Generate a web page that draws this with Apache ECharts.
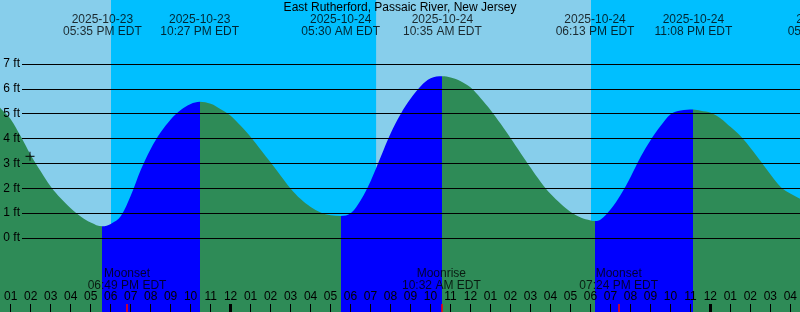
<!DOCTYPE html>
<html><head><meta charset="utf-8">
<script src="https://cdn.jsdelivr.net/npm/echarts@6/dist/echarts.min.js"></script>
<style>html,body{margin:0;padding:0;background:#87CEEB}#c{width:800px;height:312px}</style>
</head><body><div id="c"></div>
<script>
// All times: hours since 2025-10-23 00:00 EDT
const titleText = 'East Rutherford, Passaic River, New Jersey';
const viewStart = 12.465, viewEnd = 52.465;
const hourTickStart = 13, hourTickEnd = 52;
const feetMin = -3, feetMax = 9.57;
const gridFeetMin = 0, gridFeetMax = 7;

const tideTimes = [
  12.0, 12.5, 13.0, 13.5, 14.0, 14.5, 15.0, 15.5, 16.0, 16.5, 17.0, 17.583,
  18.0, 18.5, 19.0, 19.5, 20.0, 20.5, 21.0, 21.5, 22.0, 22.45,
  23.0, 23.5, 24.0, 24.5, 25.0, 25.5, 26.0, 26.5, 27.0, 27.5, 28.0, 28.5, 29.0, 29.5,
  30.0, 30.5, 31.0, 31.5, 32.0, 32.5, 33.0, 33.5, 34.0, 34.583,
  35.0, 35.5, 36.0, 36.5, 37.0, 37.5, 38.0, 38.5, 39.0, 39.5, 40.0, 40.5, 41.0, 41.5, 42.0, 42.217,
  42.5, 43.0, 43.5, 44.0, 44.5, 45.0, 45.5, 46.0, 46.5, 47.133,
  47.5, 48.0, 48.5, 49.0, 49.5, 50.0, 50.5, 51.0, 51.5, 52.0, 52.5, 53.0];
const tideFeet = [
  5.6, 5.2, 4.77, 4.08, 3.33, 2.67, 2.06, 1.58, 1.18, 0.85, 0.61, 0.45,
  0.55, 0.86, 1.68, 2.72, 3.57, 4.24, 4.76, 5.14, 5.38, 5.47,
  5.39, 5.17, 4.91, 4.5, 4.05, 3.54, 3.02, 2.49, 1.97, 1.55, 1.23, 1.01, 0.9, 0.87,
  0.98, 1.5, 2.28, 3.24, 4.2, 4.98, 5.6, 6.1, 6.42, 6.5,
  6.45, 6.3, 6.04, 5.61, 5.13, 4.58, 4.0, 3.4, 2.81, 2.24, 1.75, 1.36, 1.03, 0.81, 0.69, 0.67,
  0.73, 1.14, 1.72, 2.45, 3.25, 3.93, 4.5, 4.97, 5.12, 5.16,
  5.11, 5.03, 4.8, 4.45, 4.08, 3.6, 3.07, 2.53, 2.04, 1.76, 1.55, 1.36];

const extremeTimes = [17.5833, 22.45, 29.5, 34.5833, 42.2167, 47.1333, 53.8167];
const extremeDates = ['2025-10-23', '2025-10-23', '2025-10-24', '2025-10-24', '2025-10-24', '2025-10-24', '2025-10-25'];
const extremeClock = ['05:35 PM EDT', '10:27 PM EDT', '05:30 AM EDT', '10:35 AM EDT', '06:13 PM EDT', '11:08 PM EDT', '05:49 AM EDT'];
const risingStarts = [17.5833, 29.5, 42.2167];
const risingEnds = [22.45, 34.5833, 47.1333];

const nightStarts = [18.015, 42.015];
const nightEnds = [31.27, 55.3];

const moonTimes = [18.8167, 34.5333, 43.4];
const moonEvents = ['Moonset', 'Moonrise', 'Moonset'];
const moonClock = ['06:49 PM EDT', '10:32 AM EDT', '07:24 PM EDT'];
const midnightTimes = [24, 48];
const nowPoint = [13.965, 3.27];

const FONT = 'Liberation Sans, Arial, sans-serif';
const SKY = '#87CEEB', NIGHT = '#00BFFF', FLOOD = '#0000FF', EBB = '#2E8B57';

const chart = echarts.init(document.getElementById('c'), null, {renderer: 'canvas'});
const xRange = {type: 'value', min: viewStart, max: viewEnd, show: false};
const yHidden = {type: 'value', min: 0, max: 1, show: false};

const option = {
  animation: false,
  backgroundColor: SKY,
  title: {text: titleText, left: 'center', top: 2, padding: 0,
    textStyle: {fontFamily: FONT, fontSize: 12, fontWeight: 'normal', color: '#000'}},
  grid: [
    {left: 0, right: 0, top: 0, bottom: -1},          // 0 tide
    {left: 22, right: 0, top: 64, bottom: 74},        // 1 feet gridlines
    {left: 10.7, right: 9.3, top: 290, bottom: 8},    // 2 hour ticks
    {left: 0, right: 0, top: 304, bottom: 0},         // 3 special ticks
    {left: 0, right: 0, top: 268, height: 24},        // 4 moon labels
    {left: 0, right: 0, top: 14, height: 24}          // 5 extreme labels
  ],
  xAxis: [
    Object.assign({gridIndex: 0}, xRange),
    {gridIndex: 1, type: 'value', min: 0, max: 1, show: false},
    {gridIndex: 2, type: 'value', min: hourTickStart, max: hourTickEnd, interval: 1, z: 10,
      axisLine: {show: false}, splitLine: {show: false},
      axisTick: {show: true, length: 8, lineStyle: {color: '#000', width: 1}},
      axisLabel: {inside: true, margin: 1, color: '#000', fontFamily: FONT, fontSize: 12,
        showMinLabel: true, showMaxLabel: true, hideOverlap: false,
        formatter: v => { const h = ((v % 24) % 12) || 12; return (h < 10 ? '0' : '') + h; }}},
    Object.assign({gridIndex: 3}, xRange),
    Object.assign({gridIndex: 4}, xRange),
    Object.assign({gridIndex: 5}, xRange)
  ],
  yAxis: [
    {gridIndex: 0, type: 'value', min: feetMin, max: feetMax, show: false},
    {gridIndex: 1, type: 'value', min: gridFeetMin, max: gridFeetMax, interval: 1, z: 10,
      axisLine: {show: false}, axisTick: {show: false},
      splitLine: {show: true, lineStyle: {color: '#000', width: 1}},
      axisLabel: {margin: 2, color: '#000', fontFamily: FONT, fontSize: 12, formatter: '{value} ft'}},
    Object.assign({gridIndex: 2}, yHidden),
    Object.assign({gridIndex: 3}, yHidden),
    Object.assign({gridIndex: 4}, yHidden),
    Object.assign({gridIndex: 5}, yHidden)
  ],
  visualMap: {show: false, type: 'piecewise', seriesIndex: 1, dimension: 0,
    pieces: risingStarts.map((s, i) => ({gte: s, lt: risingEnds[i], color: FLOOD})),
    outOfRange: {color: EBB}},
  series: [
    {type: 'line', xAxisIndex: 0, yAxisIndex: 0, data: [], z: 1, silent: true,
      markArea: {silent: true, itemStyle: {color: NIGHT, opacity: 1},
        data: nightStarts.map((s, i) => [{xAxis: s}, {xAxis: nightEnds[i]}])}},
    {type: 'line', xAxisIndex: 0, yAxisIndex: 0, z: 2, smooth: 0.35, symbol: 'none',
      lineStyle: {width: 0}, areaStyle: {opacity: 1, origin: 'start'},
      data: tideTimes.map((t, i) => [t, tideFeet[i]])},
    {type: 'scatter', xAxisIndex: 0, yAxisIndex: 0, z: 5, silent: true,
      symbol: 'path://M0,3.5H8V4.5H0Z M3.5,0H4.5V8H3.5Z', symbolSize: 9,
      itemStyle: {color: '#000'}, data: [nowPoint]},
    {type: 'line', xAxisIndex: 3, yAxisIndex: 3, data: [], z: 5, silent: true,
      markLine: {silent: true, symbol: 'none', label: {show: false}, animation: false,
        data: midnightTimes.map(t => ({xAxis: t, lineStyle: {color: '#000', width: 3, type: 'solid'}}))
          .concat(moonTimes.map(t => ({xAxis: t, lineStyle: {color: '#FF0000', width: 1.5, type: 'solid'}})))}},
    {type: 'scatter', xAxisIndex: 4, yAxisIndex: 4, z: 6, silent: true, clip: false,
      symbolSize: 1, itemStyle: {color: 'rgba(0,0,0,0)'},
      label: {show: true, position: 'inside', color: '#000', fontFamily: FONT, fontSize: 12, lineHeight: 12,
        formatter: p => moonEvents[p.dataIndex] + '\n' + moonClock[p.dataIndex]},
      data: moonTimes.map(t => [t, 0.5])},
    {type: 'scatter', xAxisIndex: 5, yAxisIndex: 5, z: 6, silent: true, clip: false,
      symbolSize: 1, itemStyle: {color: 'rgba(0,0,0,0)'},
      label: {show: true, position: 'inside', color: '#000', fontFamily: FONT, fontSize: 12, lineHeight: 12,
        formatter: p => extremeDates[p.dataIndex] + '\n' + extremeClock[p.dataIndex]},
      data: extremeTimes.map(t => [t, 0.5])}
  ]
};
chart.setOption(option);
</script></body></html>
